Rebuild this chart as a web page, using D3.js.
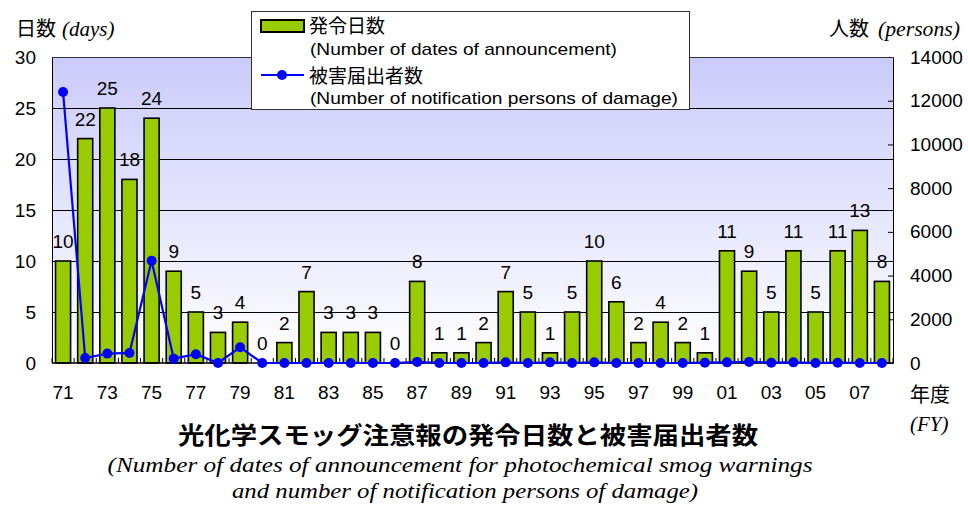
<!DOCTYPE html>
<html>
<head>
<meta charset="utf-8">
<script src="https://cdn.jsdelivr.net/npm/d3@7"></script>
<style>
  body { margin: 0; background: #fff; }
  svg { display: block; }
  .num { font-family: "Liberation Sans", Arial, sans-serif; font-size: 19px; fill: #000; }
  .jp { font-family: "Noto Sans CJK JP", sans-serif; fill: #000; }
  .en { font-family: "Liberation Sans", Arial, sans-serif; fill: #000; }
  .it { font-family: "Liberation Serif", "Times New Roman", serif; font-style: italic; fill: #000; }
</style>
</head>
<body>
<div id="app"></div>
<script>
const w = 968;
const h = 509;

// data
const years = ["71","72","73","74","75","76","77","78","79","80","81","82","83","84","85","86","87","88","89","90",
  "91","92","93","94","95","96","97","98","99","00","01","02","03","04","05","06","07","08"];
const days = [10,22,25,18,24,9,5,3,4,0,2,7,3,3,3,0,8,1,1,2,7,5,1,5,10,6,2,4,2,1,11,9,5,11,5,11,13,8];
const persons = [12400,230,430,460,4680,200,400,0,720,0,0,0,0,0,0,0,50,0,0,0,30,0,30,0,30,0,0,0,0,15,30,50,15,30,0,15,0,0];
const xTickLabels = ["71","73","75","77","79","81","83","85","87","89","91","93","95","97","99","01","03","05","07"];
const dayTicks = [0,5,10,15,20,25,30];
const personTicks = [0,2000,4000,6000,8000,10000,12000,14000];

const plotL = 52, plotR = 893, plotT = 57, plotB = 363;

const svg = d3.select('#app')
  .append('svg')
  .attr('width', w)
  .attr('height', h);

const x = d3.scaleBand().domain(years).range([plotL, plotR]).paddingInner(0.32).paddingOuter(0.16);
const yL = d3.scaleLinear().domain([0, 30]).range([plotB, plotT]);
const yR = d3.scaleLinear().domain([0, 14000]).range([plotB, plotT]);

//////////BACKGROUND//////////

const grad = svg.append('defs').append('linearGradient')
  .attr('id', 'bg').attr('x1', 0).attr('y1', 0).attr('x2', 0).attr('y2', 1);
grad.append('stop').attr('offset', '0%').attr('stop-color', '#cbcbfb');
grad.append('stop').attr('offset', '100%').attr('stop-color', '#ffffff');

svg.append('rect')
  .attr('x', plotL).attr('y', plotT)
  .attr('width', plotR - plotL).attr('height', plotB - plotT)
  .attr('fill', 'url(#bg)');

// grid lines
svg.append('g')
  .selectAll('line')
  .data(dayTicks.filter(d => d > 0 && d < 30))
  .join('line')
  .attr('x1', plotL).attr('x2', plotR)
  .attr('y1', d => Math.round(yL(d)) + 0.5).attr('y2', d => Math.round(yL(d)) + 0.5)
  .attr('stroke', '#000').attr('stroke-width', 1);

//////////AXES//////////

const axisL = svg.append('g')
  .attr('transform', `translate(${plotL},0)`)
  .call(d3.axisLeft(yL).tickValues(dayTicks).tickSize(0).tickPadding(16));
axisL.select('.domain').attr('stroke', '#000');
axisL.selectAll('text').attr('class', 'num').attr('font-size', null).attr('font-family', null);

const axisR = svg.append('g')
  .attr('transform', `translate(${plotR},0)`)
  .call(d3.axisRight(yR).tickValues(personTicks).tickFormat(d3.format('d')).tickSize(-5).tickPadding(17));
axisR.select('.domain').attr('stroke', '#000');
axisR.selectAll('.tick line').attr('stroke', '#000');
axisR.selectAll('text').attr('class', 'num').attr('font-size', null).attr('font-family', null);

// top border
svg.append('line')
  .attr('x1', plotL).attr('x2', plotR).attr('y1', plotT + 0.5).attr('y2', plotT + 0.5)
  .attr('stroke', '#333');

//////////BARS//////////

svg.append('g')
  .selectAll('rect')
  .data(years.map((yr, i) => ({ yr, v: days[i] })))
  .join('rect')
  .attr('x', d => x(d.yr))
  .attr('y', d => yL(d.v))
  .attr('width', x.bandwidth())
  .attr('height', d => plotB - yL(d.v))
  .attr('fill', '#99cc00')
  .attr('stroke', '#000')
  .attr('stroke-width', 1.6);

// bottom axis with minor ticks at every category boundary
const bounds = years.map(yr => x(yr) - x.step() * x.paddingInner() / 2).concat([plotR]);
svg.append('g')
  .selectAll('line')
  .data(bounds)
  .join('line')
  .attr('x1', d => d).attr('x2', d => d)
  .attr('y1', plotB).attr('y2', plotB - 5)
  .attr('stroke', '#000');

svg.append('line')
  .attr('x1', plotL).attr('x2', plotR).attr('y1', plotB).attr('y2', plotB)
  .attr('stroke', '#000').attr('stroke-width', 1.5);

svg.append('g')
  .selectAll('text')
  .data(xTickLabels)
  .join('text')
  .attr('class', 'num')
  .attr('x', d => x(d) + x.bandwidth() / 2)
  .attr('y', 399)
  .attr('text-anchor', 'middle')
  .text(d => d);

// bar value labels
svg.append('g')
  .selectAll('text')
  .data(years.map((yr, i) => ({ yr, v: days[i] })))
  .join('text')
  .attr('class', 'num')
  .attr('x', d => x(d.yr) + x.bandwidth() / 2)
  .attr('y', d => yL(d.v) - 13)
  .attr('text-anchor', 'middle')
  .text(d => d.v);

//////////LINE//////////

const pts = years.map((yr, i) => [x(yr) + x.bandwidth() / 2, yR(persons[i])]);

svg.append('path')
  .datum(pts)
  .attr('d', d3.line())
  .attr('fill', 'none')
  .attr('stroke', '#0000ff')
  .attr('stroke-width', 2.2);

svg.append('g')
  .selectAll('circle')
  .data(pts)
  .join('circle')
  .attr('cx', d => d[0]).attr('cy', d => d[1])
  .attr('r', 5)
  .attr('fill', '#0000ff');

//////////AXIS TITLES//////////

svg.append('text').attr('class', 'jp').attr('x', 16).attr('y', 36).attr('font-size', 20).text('日数');
svg.append('text').attr('class', 'it').attr('x', 62).attr('y', 36).attr('font-size', 21).text('(days)');

svg.append('text').attr('class', 'jp').attr('x', 829).attr('y', 36).attr('font-size', 20).text('人数');
svg.append('text').attr('class', 'it').attr('x', 878).attr('y', 36).attr('font-size', 21)
  .attr('textLength', 82).attr('lengthAdjust', 'spacingAndGlyphs').text('(persons)');

svg.append('text').attr('class', 'jp').attr('x', 910).attr('y', 402).attr('font-size', 20).text('年度');
svg.append('text').attr('class', 'it').attr('x', 910).attr('y', 431).attr('font-size', 21).text('(FY)');

//////////LEGEND//////////

const legend = svg.append('g');
legend.append('rect')
  .attr('x', 251.5).attr('y', 11.5).attr('width', 438).attr('height', 98)
  .attr('fill', '#fff').attr('stroke', '#333');
legend.append('rect')
  .attr('x', 261).attr('y', 20).attr('width', 43).attr('height', 12)
  .attr('fill', '#99cc00').attr('stroke', '#000').attr('stroke-width', 2);
legend.append('text').attr('class', 'jp').attr('x', 309).attr('y', 33).attr('font-size', 19).text('発令日数');
legend.append('text').attr('class', 'en').attr('x', 310).attr('y', 55).attr('font-size', 17)
  .attr('textLength', 307).attr('lengthAdjust', 'spacingAndGlyphs')
  .text('(Number of dates of announcement)');
legend.append('line')
  .attr('x1', 261).attr('x2', 304).attr('y1', 75).attr('y2', 75)
  .attr('stroke', '#0000ff').attr('stroke-width', 2.2);
legend.append('circle').attr('cx', 282).attr('cy', 75).attr('r', 5).attr('fill', '#0000ff');
legend.append('text').attr('class', 'jp').attr('x', 309).attr('y', 83).attr('font-size', 19).text('被害届出者数');
legend.append('text').attr('class', 'en').attr('x', 310).attr('y', 104).attr('font-size', 17)
  .attr('textLength', 368).attr('lengthAdjust', 'spacingAndGlyphs')
  .text('(Number of notification persons of damage)');

//////////TITLE//////////

svg.append('text').attr('class', 'jp')
  .attr('x', 468).attr('y', 444).attr('text-anchor', 'middle')
  .attr('font-size', 24).attr('font-weight', 'bold')
  .attr('textLength', 580).attr('lengthAdjust', 'spacingAndGlyphs')
  .text('光化学スモッグ注意報の発令日数と被害届出者数');
svg.append('text').attr('class', 'it')
  .attr('x', 460).attr('y', 472).attr('text-anchor', 'middle')
  .attr('font-size', 22)
  .attr('textLength', 705).attr('lengthAdjust', 'spacingAndGlyphs')
  .text('(Number of dates of announcement for photochemical smog warnings');
svg.append('text').attr('class', 'it')
  .attr('x', 465).attr('y', 498).attr('text-anchor', 'middle')
  .attr('font-size', 22)
  .attr('textLength', 466).attr('lengthAdjust', 'spacingAndGlyphs')
  .text('and number of notification persons of damage)');
</script>
</body>
</html>
